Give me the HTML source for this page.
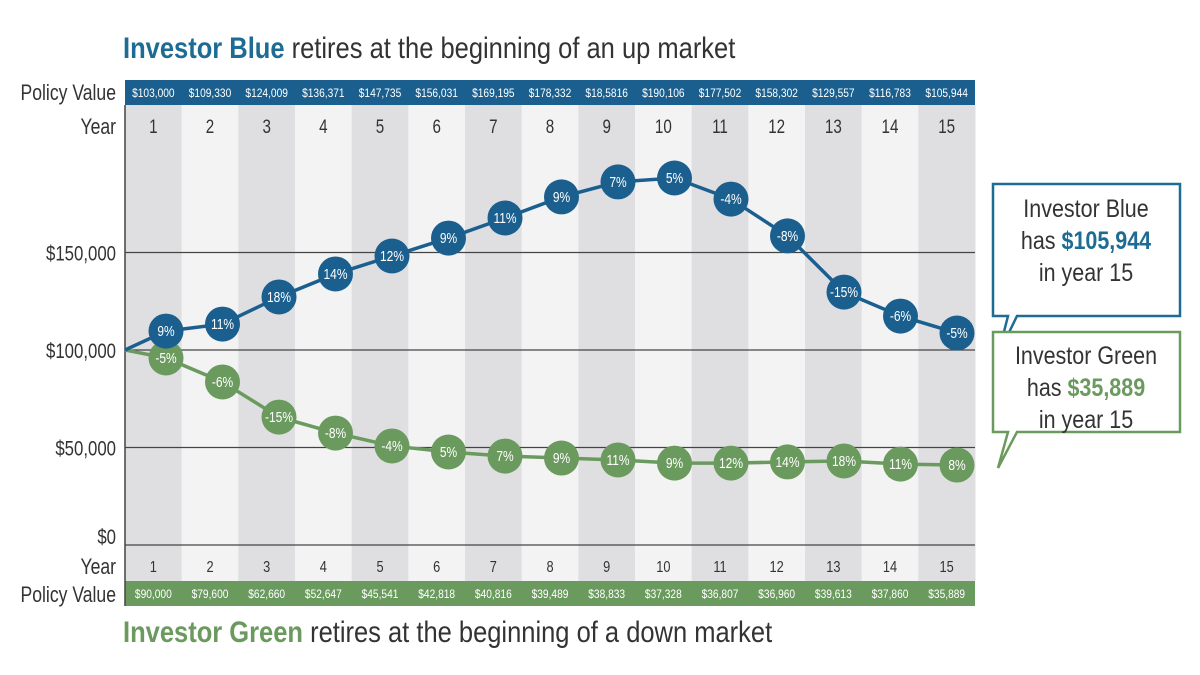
<!DOCTYPE html>
<html><head><meta charset="utf-8">
<style>
html,body{margin:0;padding:0;background:#fff;}
body{width:1200px;height:675px;overflow:hidden;font-family:"Liberation Sans Narrow","Liberation Sans",sans-serif;position:relative;}
svg text{font-family:"Liberation Sans Narrow","Liberation Sans",sans-serif;}
.ttl{position:absolute;font-size:30px;color:#333;white-space:nowrap;transform:scaleX(0.85);transform-origin:0 0;}
</style></head>
<body>
<svg id="chart" style="position:absolute;left:0;top:0" width="1200" height="675" viewBox="0 0 1200 675" xmlns="http://www.w3.org/2000/svg">
<g id="g"></g>
</svg>
<script>
const years = [1,2,3,4,5,6,7,8,9,10,11,12,13,14,15];
const blueValues = [109700,113300,127200,139000,148200,157400,167700,178500,186200,188200,177400,158500,129700,117400,108700];
const blueReturns = ["9%","11%","18%","14%","12%","9%","11%","9%","7%","5%","-4%","-8%","-15%","-6%","-5%"];
const bluePolicy = ["$103,000","$109,330","$124,009","$136,371","$147,735","$156,031","$169,195","$178,332","$18,5816","$190,106","$177,502","$158,302","$129,557","$116,783","$105,944"];
const greenValues = [95900,83600,65600,57400,50800,47700,45600,44600,43600,42000,42000,42600,43100,41500,41000];
const greenReturns = ["-5%","-6%","-15%","-8%","-4%","5%","7%","9%","11%","9%","12%","14%","18%","11%","8%"];
const greenPolicy = ["$90,000","$79,600","$62,660","$52,647","$45,541","$42,818","$40,816","$39,489","$38,833","$37,328","$36,807","$36,960","$39,613","$37,860","$35,889"];
const yTicks = [0,50000,100000,150000];
const yTickLabels = ["$0","$50,000","$100,000","$150,000"];
const startValue = 100000;

const NS="http://www.w3.org/2000/svg";
const g=document.getElementById('g');
const L=125,R=975,colW=(R-L)/15;
const BLUE="#1b5f8f",GREEN="#6b9a5e";
const SX=0.8;
function yS(v){return 545-v*97.5/50000;}
function colX(i){return L+i*colW;}
function ptX(i){return 166+i*56.5;}
function mk(tag,attrs,parent){const e=document.createElementNS(NS,tag);for(const k in attrs)e.setAttribute(k,attrs[k]);(parent||g).appendChild(e);return e;}
function txt(x,y,s,attrs,sx){const t=mk('text',Object.assign({x:0,y:0,transform:"translate("+x+","+y+") scale("+(sx||SX)+",1)"},attrs));t.textContent=s;return t;}

years.forEach((yr,i)=>{
  const r=mk('rect',{x:colX(i),y:105,width:colW+0.5,height:476,fill:i%2===0?"#dfdfe2":"#f3f3f4"});
  
  
});
const tb=mk('rect',{x:L,y:80,width:R-L,height:25,fill:BLUE});


const gb=mk('rect',{x:L,y:581,width:R-L,height:25,fill:GREEN});


years.forEach((yr,i)=>{
  const cx=colX(i)+colW/2;
  let t=txt(cx,97,bluePolicy[i],{fill:"#fff","font-size":12,"text-anchor":"middle"},0.85);
  
  
  t=txt(cx,598,greenPolicy[i],{fill:"#fff","font-size":12,"text-anchor":"middle"},0.85);
  
  
  t=txt(cx,133,String(yr),{fill:"#333","font-size":19,"text-anchor":"middle"});
  
  
  t=txt(cx,572,String(yr),{fill:"#333","font-size":16,"text-anchor":"middle"});
  
  
});
[[100,"Policy Value",22,'top-policy-value-label'],[134,"Year",22,'top-year-title'],[574,"Year",22,'bottom-year-title'],[602,"Policy Value",22,'bottom-policy-value-label']].forEach(a=>{
  const t=txt(116,a[0],a[1],{fill:"#333","font-size":a[2],"text-anchor":"end"});
  
  
});
const ax=mk('line',{x1:L,y1:105,x2:L,y2:606,stroke:"#444","stroke-width":1.5});


yTicks.forEach((v,i)=>{
  const y=yS(v);
  const l=mk('line',{x1:L,x2:R,y1:y,y2:y,stroke:"#444","stroke-width":1.3});
  
  
  const t=txt(116,y+(v===0?-1:8),yTickLabels[i],{fill:"#333","font-size":21,"text-anchor":"end"});
  
  
});
function series(vals,rets,color,name){
  let d="M"+L+","+yS(startValue);
  vals.forEach((v,i)=>{d+=" L"+ptX(i)+","+yS(v);});
  const p=mk('path',{d:d,fill:"none",stroke:color,"stroke-width":3.5});
  
  
  vals.forEach((v,i)=>{
    const c=mk('circle',{cx:ptX(i),cy:yS(v),r:17.5,fill:color});
    
    
    const t=txt(ptX(i),yS(v)+5,rets[i],{fill:"#fff","font-size":15,"text-anchor":"middle"});
    
    
  });
}
series(greenValues,greenReturns,GREEN,'green');
series(blueValues,blueReturns,BLUE,'blue');
</script>

<div class="ttl" style="left:123px;top:32px;"><b style="color:#1e6c93">Investor Blue</b> retires at the beginning of an up market</div>
<div class="ttl" style="left:123px;top:616px;"><b style="color:#6b9a5e">Investor Green</b> retires at the beginning of a down market</div>

<svg style="position:absolute;left:0;top:0" width="1200" height="675">
<path d="M993,184 H1180 V316 H1017 L998,355 L1008,316 H993 Z" fill="#fff" stroke="#1e6c93" stroke-width="2.5"/>
<path d="M993,332 H1180 V432 H1017 L998,468 L1008,432 H993 Z" fill="#fff" stroke="#6b9a5e" stroke-width="2.5"/>
<g font-size="25" fill="#333" text-anchor="middle">
<text transform="translate(1086,217) scale(0.86,1)">Investor Blue</text>
<text transform="translate(1086,249) scale(0.86,1)">has <tspan font-weight="bold" fill="#1e6c93">$105,944</tspan></text>
<text transform="translate(1086,281) scale(0.86,1)">in year 15</text>
<text transform="translate(1086,364) scale(0.86,1)">Investor Green</text>
<text transform="translate(1086,396) scale(0.86,1)">has <tspan font-weight="bold" fill="#6b9a5e">$35,889</tspan></text>
<text transform="translate(1086,428) scale(0.86,1)">in year 15</text>
</g>
</svg>
</body></html>
